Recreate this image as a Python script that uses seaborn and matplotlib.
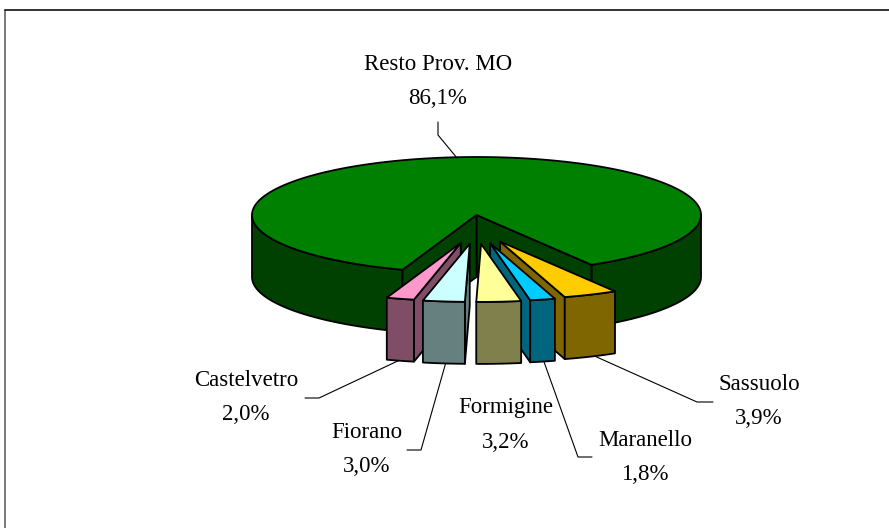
import numpy as np
import matplotlib
matplotlib.use("Agg")
import matplotlib.pyplot as plt
from matplotlib.colors import to_rgb
from matplotlib.patches import Polygon
import seaborn as sns

# values, in the order they go round the gap (clockwise from the right edge)
labels = ["Sassuolo", "Maranello", "Formigine", "Fiorano", "Castelvetro", "Resto Prov. MO"]
values = [3.9, 1.8, 3.2, 3.0, 2.0, 86.1]
value_labels = ["3,9%", "1,8%", "3,2%", "3,0%", "2,0%", "86,1%"]
top_colors = ["#FFCC00", "#00CCFF", "#FFFF99", "#CCFFFF", "#FF99CC", "#008000"]

sns.set_theme(style="white")
plt.rcParams["font.family"] = ["Liberation Serif", "DejaVu Serif"]

# pie geometry in pixels
cx, cy = 476.5, 215
rx, ry = 224.5, 58
depth = 62
explode_x, explode_y = 0.26, 0.5
start = -59.2
edge = dict(edgecolor="black", linewidth=1.3, joinstyle="round")

fig = plt.figure(figsize=(8.89, 5.28), dpi=100)
ax = fig.add_axes([0, 0, 1, 1])
ax.set_xlim(0, 889)
ax.set_ylim(528, 0)
ax.axis("off")


def pt(angle, r=1.0, ox=0.0, oy=0.0):
    a = np.radians(angle)
    return np.array([cx + rx * (r * np.cos(a) + ox), cy - ry * (r * np.sin(a) + oy)])


def arc(a0, a1, ox=0.0, oy=0.0):
    n = max(int(abs(a1 - a0)) * 2, 4)
    return np.array([pt(a, 1.0, ox, oy) for a in np.linspace(a0, a1, n)])


def drop(points):
    return np.asarray(points) + [0, depth]


def face(points, color, z):
    ax.add_patch(Polygon(points, closed=True, facecolor=color, zorder=z, **edge))


def cut_face(p0, p1, color, z):
    face([p0, p1, p1 + [0, depth], p0 + [0, depth]], color, z)


def dark(color):
    return tuple(c * 0.5 for c in to_rgb(color))


# angle ranges from the values
spans = np.array(values) * 3.6
ends = start - np.cumsum(spans)
starts = ends + spans

# the big slice first, it is behind everything
gap_left = starts[5]
gap_right = ends[5] + 360
main_side = dark(top_colors[5])
right_wall = arc(gap_right, 0)
left_wall = arc(-180, gap_left)
face(np.vstack([right_wall, drop(right_wall)[::-1]]), main_side, 1)
face(np.vstack([left_wall, drop(left_wall)[::-1]]), main_side, 1)
centre = pt(0, 0)
cut_face(centre, pt(gap_right), main_side, 2)
cut_face(centre, pt(gap_left), main_side, 2)
face(np.vstack([[centre], arc(gap_right, gap_left + 360)]), top_colors[5], 3)

# small slices, outside ones first so the inner ones sit on top
draw_order = [0, 4, 1, 3, 2]
for z, i in enumerate(draw_order):
    hi, lo = starts[i], ends[i]
    mid = np.radians((hi + lo) / 2)
    ox, oy = explode_x * np.cos(mid), explode_y * np.sin(mid)
    tip = pt(0, 0, ox, oy)
    base = 10 + z * 3
    side = dark(top_colors[i])
    # only the cut face turned to the viewer shows
    if lo > -90:
        cut_face(tip, pt(lo, 1, ox, oy), side, base)
    if hi < -90:
        cut_face(tip, pt(hi, 1, ox, oy), side, base)
    wall = arc(lo, hi, ox, oy)
    face(np.vstack([wall, drop(wall)[::-1]]), side, base + 1)
    face(np.vstack([[tip], wall]), top_colors[i], base + 2)

# frame, only top and left
ax.plot([5, 5], [528, 10], color="#555555", lw=1.1, zorder=30)
ax.plot([5, 889], [10, 10], color="#111111", lw=1.2, zorder=30)

# leader lines
leaders = [
    [(713, 402), (697, 402), (590, 354)],
    [(592, 457), (578, 457), (543, 359)],
    [(407, 450), (421, 450), (446, 362)],
    [(305, 398), (319, 398), (402, 359)],
    [(438, 122), (438, 135), (457, 158)],
]
for line in leaders:
    xs, ys = zip(*line)
    ax.plot(xs, ys, color="black", lw=0.8, zorder=5)

# text: name and value under each other
label_pos = [(759, 384), (645, 440), (506, 408), (367, 432), (246, 381), (438, 64)]
for name, val, (x, y) in zip(labels, value_labels, label_pos):
    ax.text(x, y, name, ha="center", va="center", fontsize=16.5, color="black", zorder=40)
    ax.text(x, y + 34, val, ha="center", va="center", fontsize=16.5, color="black", zorder=40)

fig.savefig("out.png", dpi=100)
